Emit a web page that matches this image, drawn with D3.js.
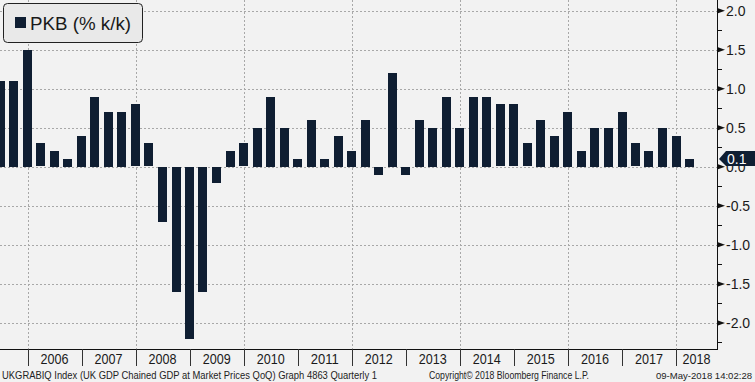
<!DOCTYPE html>
<html><head><meta charset="utf-8">
<script src="https://cdn.jsdelivr.net/npm/d3@7"></script>
<style>
html,body{margin:0;padding:0;background:#f2f2f2;}
svg{display:block;}
text{font-family:"Liberation Sans",Arial,sans-serif;}
</style></head>
<body>
<svg id="chart" width="755" height="382"></svg>
<script>
// ---- data ----
const quarters = [
 "2005-Q2","2005-Q3","2005-Q4",
 "2006-Q1","2006-Q2","2006-Q3","2006-Q4",
 "2007-Q1","2007-Q2","2007-Q3","2007-Q4",
 "2008-Q1","2008-Q2","2008-Q3","2008-Q4",
 "2009-Q1","2009-Q2","2009-Q3","2009-Q4",
 "2010-Q1","2010-Q2","2010-Q3","2010-Q4",
 "2011-Q1","2011-Q2","2011-Q3","2011-Q4",
 "2012-Q1","2012-Q2","2012-Q3","2012-Q4",
 "2013-Q1","2013-Q2","2013-Q3","2013-Q4",
 "2014-Q1","2014-Q2","2014-Q3","2014-Q4",
 "2015-Q1","2015-Q2","2015-Q3","2015-Q4",
 "2016-Q1","2016-Q2","2016-Q3","2016-Q4",
 "2017-Q1","2017-Q2","2017-Q3","2017-Q4",
 "2018-Q1"];
const gdpQoQ = [
 1.1, 1.1, 1.5,
 0.3, 0.2, 0.1, 0.4,
 0.9, 0.7, 0.7, 0.8,
 0.3, -0.7, -1.6, -2.2,
 -1.6, -0.2, 0.2, 0.3,
 0.5, 0.9, 0.5, 0.1,
 0.6, 0.1, 0.4, 0.2,
 0.6, -0.1, 1.2, -0.1,
 0.6, 0.5, 0.9, 0.5,
 0.9, 0.9, 0.8, 0.8,
 0.3, 0.6, 0.4, 0.7,
 0.2, 0.5, 0.5, 0.7,
 0.3, 0.2, 0.5, 0.4,
 0.1];
const yearLabels = ["2006","2007","2008","2009","2010","2011","2012","2013","2014","2015","2016","2017","2018"];
const yTicks = [-2.0,-1.5,-1.0,-0.5,0.0,0.5,1.0,1.5,2.0];
const yMinorTicks = [-2.25,-1.75,-1.25,-0.75,-0.25,0.25,0.75,1.25,1.75];
const legendLabel = "PKB (% k/k)";
const lastValueLabel = "0.1";
const footerLeft = "UKGRABIQ Index (UK GDP Chained GDP at Market Prices QoQ) Graph 4863  Quarterly 1";
const footerMid = "Copyright\u00a9 2018 Bloomberg Finance L.P.";
const footerRight = "09-May-2018 14:02:28";

// ---- layout ----
const W = 755, H = 382;
const plotLeft = 0, plotRight = 717, plotTop = 0, plotBottom = 349;
const barColor = "#0f1e32";
const gridColor = "#a8a8a8";

const svg = d3.select("#chart");
svg.append("rect").attr("width", W).attr("height", H).attr("fill", "#f2f2f2");

// quarter-end date (plotted at start of following quarter)
const qEnd = q => { const [y, qq] = q.split("-Q").map(Number); return new Date(y, 3 * qq, 1); };

const x = d3.scaleTime()
  .domain([new Date(2005, 5, 29), new Date(2018, 9, 5)])
  .range([plotLeft, plotRight]);
const y = d3.scaleLinear().domain([-2, 2]).range([322.9, 10.7]);

svg.append("clipPath").attr("id", "plotclip")
  .append("rect").attr("x", plotLeft).attr("y", plotTop)
  .attr("width", plotRight - plotLeft).attr("height", plotBottom - plotTop);

const g = svg.append("g").attr("clip-path", "url(#plotclip)");

// horizontal grid
g.selectAll("line.hgrid").data(yTicks).join("line")
  .attr("class", "hgrid")
  .attr("x1", plotLeft).attr("x2", plotRight)
  .attr("y1", d => Math.round(y(d)) + 0.5).attr("y2", d => Math.round(y(d)) + 0.5)
  .attr("stroke", gridColor).attr("stroke-width", 1).attr("stroke-dasharray", "2,2");

// vertical grid every two years
const yearStarts = yearLabels.map(s => new Date(+s, 0, 1));
g.selectAll("line.vgrid").data(yearStarts.filter(d => d.getFullYear() % 2 === 0)).join("line")
  .attr("class", "vgrid")
  .attr("x1", d => Math.round(x(d)) + 0.5).attr("x2", d => Math.round(x(d)) + 0.5)
  .attr("y1", plotTop).attr("y2", plotBottom)
  .attr("stroke", gridColor).attr("stroke-width", 1).attr("stroke-dasharray", "2,2");

// bars
const barW = 9;
g.selectAll("rect.bar").data(quarters.map((q, i) => ({ q, v: gdpQoQ[i] }))).join("rect")
  .attr("class", "bar")
  .attr("x", d => Math.round(x(qEnd(d.q)) - barW / 2))
  .attr("width", barW)
  .attr("y", d => Math.round(y(Math.max(0, d.v))))
  .attr("height", d => Math.round(Math.abs(y(d.v) - y(0))))
  .attr("fill", barColor);

// axes lines
svg.append("line").attr("x1", plotRight + 0.5).attr("x2", plotRight + 0.5)
  .attr("y1", 0).attr("y2", plotBottom).attr("stroke", "#111").attr("stroke-width", 1);
svg.append("line").attr("x1", 0).attr("x2", plotRight + 1)
  .attr("y1", plotBottom + 0.5).attr("y2", plotBottom + 0.5).attr("stroke", "#111").attr("stroke-width", 1);

// right axis ticks
svg.selectAll("path.major").data(yTicks).join("path")
  .attr("class", "major")
  .attr("d", d => { const yy = y(d); return `M${plotRight + 1},${yy - 2.5}L${plotRight + 8},${yy}L${plotRight + 1},${yy + 2.5}Z`; })
  .attr("fill", "#111");
svg.selectAll("line.minor").data(yMinorTicks).join("line")
  .attr("class", "minor")
  .attr("x1", plotRight + 1).attr("x2", plotRight + 5)
  .attr("y1", d => Math.round(y(d)) + 0.5).attr("y2", d => Math.round(y(d)) + 0.5)
  .attr("stroke", "#111");
svg.selectAll("text.ylab").data(yTicks).join("text")
  .attr("class", "ylab")
  .attr("x", plotRight + 9).attr("y", d => y(d) + 5)
  .attr("font-size", 14).attr("fill", "#1a1a1a")
  .text(d => d.toFixed(1));

// last value marker
const lastY = y(gdpQoQ[gdpQoQ.length - 1]);
svg.append("path")
  .attr("d", `M${plotRight + 2},${lastY}L${plotRight + 9},${lastY - 8}L${W},${lastY - 8}L${W},${lastY + 7}L${plotRight + 9},${lastY + 7}Z`)
  .attr("fill", barColor);
svg.append("text").attr("x", plotRight + 10).attr("y", lastY + 5)
  .attr("font-size", 14).attr("fill", "#ffffff").text(lastValueLabel);

// year separators and labels
svg.selectAll("line.ysep").data(yearStarts).join("line")
  .attr("class", "ysep")
  .attr("x1", d => Math.round(x(d)) + 0.5).attr("x2", d => Math.round(x(d)) + 0.5)
  .attr("y1", plotBottom).attr("y2", 366)
  .attr("stroke", "#333");
svg.selectAll("text.year").data(yearLabels).join("text")
  .attr("class", "year")
  .attr("x", s => { const a = x(new Date(+s, 0, 1)); const b = Math.min(plotRight, x(new Date(+s + 1, 0, 1))); return (a + b) / 2; })
  .attr("y", 364)
  .attr("text-anchor", "middle")
  .attr("font-size", 15).attr("fill", "#1a1a1a")
  .attr("textLength", 28).attr("lengthAdjust", "spacingAndGlyphs")
  .text(s => s);

// footer
svg.append("text").attr("x", 2).attr("y", 379).attr("font-size", 10.5).attr("fill", "#222")
  .attr("textLength", 375).attr("lengthAdjust", "spacingAndGlyphs").text(footerLeft);
svg.append("text").attr("x", 429).attr("y", 379).attr("font-size", 10.5).attr("fill", "#222")
  .attr("textLength", 160).attr("lengthAdjust", "spacingAndGlyphs").text(footerMid);
svg.append("text").attr("x", 656).attr("y", 379).attr("font-size", 9.6).attr("fill", "#222")
  .attr("textLength", 96).attr("lengthAdjust", "spacingAndGlyphs").text(footerRight);

// legend
svg.append("rect").attr("x", 3.5).attr("y", 3.5).attr("width", 139).attr("height", 39)
  .attr("rx", 4).attr("fill", "#e9e9e9").attr("stroke", "#222").attr("stroke-width", 1);
svg.append("rect").attr("x", 15).attr("y", 17).attr("width", 11).attr("height", 11).attr("fill", barColor);
svg.append("text").attr("x", 30).attr("y", 29.5).attr("font-size", 18.5).attr("fill", "#1a1a1a")
  .attr("textLength", 101).attr("lengthAdjust", "spacingAndGlyphs").text(legendLabel);
</script>
</body></html>
